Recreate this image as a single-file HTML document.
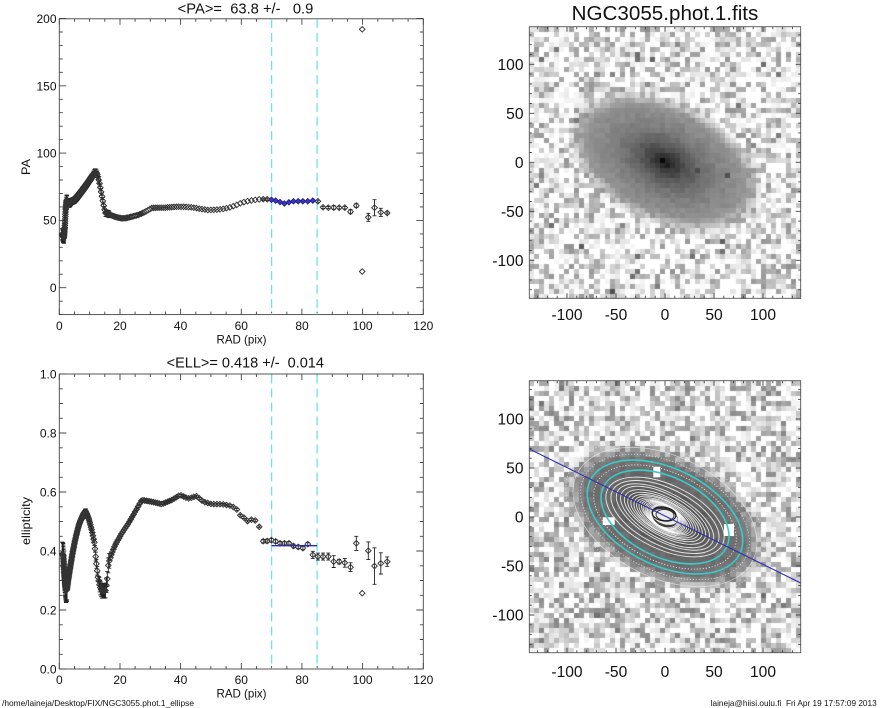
<!DOCTYPE html>
<html><head><meta charset="utf-8"><title>NGC3055 ellipse fit</title>
<style>
html,body{margin:0;padding:0;background:#fff}
body{width:885px;height:708px;overflow:hidden;position:relative}
canvas{position:absolute}
#ov{position:absolute;left:0;top:0}
text{font-family:"Liberation Sans",Arial,Helvetica,sans-serif;fill:#111}
</style></head><body>
<canvas id="c1" width="272" height="272" style="left:529px;top:27px;background:radial-gradient(100px 62px at 136px 135px,#222,#777 55%,#bbb 85%,#e4e4e4) #e4e4e4"></canvas>
<canvas id="c2" width="272" height="272" style="left:529px;top:381px;background:radial-gradient(100px 62px at 136px 136px,#ccc,#666 40%,#999 85%,#d8d8d8) #d8d8d8"></canvas>
<svg id="ov" width="885" height="708" viewBox="0 0 885 708">
<defs><clipPath id="cb"><rect x="529.3" y="380.7" width="271.4" height="272"/></clipPath></defs>
<g id="masks" fill="#fff">
<rect x="653.3" y="466.7" width="7" height="10.6"/>
<rect x="602.7" y="517.3" width="12" height="7.7"/>
<rect x="724" y="524" width="10" height="12"/>
</g>
<g id="cont" clip-path="url(#cb)"></g>
<line x1="529.3" y1="449" x2="800.7" y2="583" stroke="#3030b0" stroke-width="1.1"/>
<g id="ticks" stroke="#444" stroke-width="0.9" fill="none"></g>
<rect x="59.3" y="18.8" width="364" height="295.8" fill="none" stroke="#444" stroke-width="0.9"/>
<rect x="59.3" y="374" width="364" height="295" fill="none" stroke="#444" stroke-width="0.9"/>
<rect x="529.3" y="26.7" width="271.4" height="271.6" fill="none" stroke="#555" stroke-width="0.9"/>
<rect x="529.3" y="380.7" width="271.4" height="272" fill="none" stroke="#555" stroke-width="0.9"/>
<g stroke="#6fe3ec" stroke-width="1.3" stroke-dasharray="9,5">
<line x1="271.6" y1="19" x2="271.6" y2="314.5"/><line x1="317.1" y1="19" x2="317.1" y2="314.5"/>
<line x1="271.6" y1="374.5" x2="271.6" y2="669"/><line x1="317.1" y1="374.5" x2="317.1" y2="669"/>
</g>
<g id="pts"></g>
<line x1="271.6" y1="545.7" x2="317.1" y2="545.7" stroke="#2a2ab0" stroke-width="1.4"/>

<text x="245.5" y="13.5" font-size="14.5" text-anchor="middle" style="white-space:pre" textLength="135.6" lengthAdjust="spacingAndGlyphs">&lt;PA&gt;=  63.8 +/-   0.9</text>
<text x="245.3" y="367.5" font-size="14.5" text-anchor="middle" style="white-space:pre" textLength="157.3" lengthAdjust="spacingAndGlyphs">&lt;ELL&gt;= 0.418 +/-  0.014</text>
<text x="665" y="19.8" font-size="20.5" text-anchor="middle" textLength="186.7" lengthAdjust="spacingAndGlyphs">NGC3055.phot.1.fits</text>

<g font-size="12" text-anchor="end">
<text x="56.5" y="292">0</text><text x="56.5" y="224.6">50</text><text x="56.5" y="157.6">100</text><text x="56.5" y="90.3">150</text><text x="56.5" y="23">200</text>
<text x="56.5" y="673.3">0.0</text><text x="56.5" y="614.3">0.2</text><text x="56.5" y="555.3">0.4</text><text x="56.5" y="496.3">0.6</text><text x="56.5" y="437.3">0.8</text><text x="56.5" y="378.3">1.0</text>
</g>
<g font-size="12" text-anchor="middle">
<text x="59.3" y="330">0</text><text x="120" y="330">20</text><text x="180.6" y="330">40</text><text x="241.3" y="330">60</text><text x="302" y="330">80</text><text x="362.6" y="330">100</text><text x="423.3" y="330">120</text>
<text x="59.3" y="684">0</text><text x="120" y="684">20</text><text x="180.6" y="684">40</text><text x="241.3" y="684">60</text><text x="302" y="684">80</text><text x="362.6" y="684">100</text><text x="423.3" y="684">120</text>
<text x="241.5" y="343.5" textLength="50" lengthAdjust="spacingAndGlyphs">RAD (pix)</text>
<text x="241.5" y="697.5" textLength="50" lengthAdjust="spacingAndGlyphs">RAD (pix)</text>
</g>
<text font-size="12" text-anchor="middle" transform="translate(30 167) rotate(-90)" textLength="16" lengthAdjust="spacingAndGlyphs">PA</text>
<text font-size="12" text-anchor="middle" transform="translate(30 521) rotate(-90)" textLength="48" lengthAdjust="spacingAndGlyphs">ellipticity</text>

<g font-size="15.6" text-anchor="end">
<text x="523.5" y="69.9">100</text><text x="523.5" y="118.9">50</text><text x="523.5" y="167.9">0</text><text x="523.5" y="216.9">-50</text><text x="523.5" y="265.9">-100</text>
<text x="523.5" y="424.6">100</text><text x="523.5" y="473.6">50</text><text x="523.5" y="522.6">0</text><text x="523.5" y="571.6">-50</text><text x="523.5" y="620.6">-100</text>
</g>
<g font-size="15.6" text-anchor="middle">
<text x="567" y="320">-100</text><text x="616" y="320">-50</text><text x="665" y="320">0</text><text x="714" y="320">50</text><text x="763" y="320">100</text>
<text x="567" y="677">-100</text><text x="616" y="677">-50</text><text x="665" y="677">0</text><text x="714" y="677">50</text><text x="763" y="677">100</text>
</g>
<text x="2" y="706" font-size="8.5" textLength="192" lengthAdjust="spacingAndGlyphs">/home/laineja/Desktop/FIX/NGC3055.phot.1_ellipse</text>
<text x="876.7" y="706" font-size="8.5" text-anchor="end" style="white-space:pre" textLength="166" lengthAdjust="spacingAndGlyphs">laineja@hiisi.oulu.fi  Fri Apr 19 17:57:09 2013</text>
</svg>
<script>
(function(){
var NS='http://www.w3.org/2000/svg';
function E(tag,at,par){var e=document.createElementNS(NS,tag);for(var k in at)e.setAttribute(k,at[k]);par.appendChild(e);return e;}
function interp(K,r){if(r<=K[0][0])return K[0][1];for(var i=1;i<K.length;i++){if(r<=K[i][0]){var a=K[i-1],b=K[i];return a[1]+(b[1]-a[1])*(r-a[0])/(b[0]-a[0]);}}return K[K.length-1][1];}
var PAK=[[0.99,40],[1.2,38],[1.5,37],[1.8,45],[2.1,58],[2.4,65],[2.8,63],[3.3,62],[4,64],[5,65],[6,67.5],[7,70.5],[8,73.5],[9,76.5],[10,80],[11,83],[11.7,86],[12.3,85.5],[12.8,82],[13.3,77],[13.8,71],[14.3,65],[14.8,59],[15.2,55.5],[16,55],[17,54],[18,53],[19,52.3],[20.6,51.5],[22,51.8],[24,52.8],[26,54],[28,56],[30.5,59.2],[32,59.4],[34,59.4],[36,59.7],[39,60.2],[42,60],[44,59.6],[46,58.8],[49,57.7],[52,58],[54,58.5],[56,59.5],[58,61],[60,63],[62,64.3],[64.5,65.2],[66,65.6],[68,65.8],[69.3,65.5],[70.7,65.2],[72,64.2],[73,63.5],[74.3,62.5],[75.8,63.5],[77,64.2],[78.7,64.2],[80.3,64.2],[82,64.2],[83.6,64.7],[85.3,64.2]];
var ELK=[[0.99,0.39],[1.3,0.386],[1.6,0.33],[1.9,0.29],[2.2,0.265],[2.5,0.27],[2.9,0.30],[3.5,0.34],[4.5,0.40],[5.5,0.45],[6.5,0.49],[7.5,0.515],[8.7,0.533],[9.7,0.51],[10.7,0.471],[11.6,0.426],[12.1,0.37],[12.7,0.313],[13.4,0.279],[14,0.265],[15.2,0.265],[15.8,0.3],[16.2,0.358],[17.3,0.392],[18.4,0.42],[20.6,0.46],[22.8,0.494],[25,0.533],[27.2,0.573],[30.5,0.567],[33.8,0.559],[37.1,0.573],[39.8,0.59],[42.5,0.578],[45.3,0.586],[47.5,0.567],[50.2,0.559],[53.5,0.559],[56.8,0.553],[58.5,0.541],[59.6,0.522],[61.2,0.511],[62.3,0.499],[63.4,0.507],[64.5,0.505],[65.9,0.482],[67.3,0.43],[68.6,0.434],[70,0.437],[71.5,0.432],[72.8,0.426],[74.2,0.426],[75.9,0.426],[77.2,0.417],[78.5,0.415],[80,0.407],[81.9,0.424],[83.6,0.387]];
function XR(r){return 59.3+3.033*r;}
function YP(p){return 287.7-1.346*p;}
function YE(e){return 669-295*e;}
var paOut={226:[59.7,.8],227:[59.5,.8],228:[59.5,1.5],229:[59.5,1],230:[59.5,1],231:[56.5,1.5],232:[61,1.5],233:[192,0],234:[52.3,3],235:[59.4,6],236:[56,3],237:[55.5,.8]};
var elOut={224:[.387,.012],225:[.381,.012],226:[.381,.012],227:[.381,.012],228:[.364,.02],229:[.364,.008],230:[.36,.015],231:[.345,.015],232:[.426,.024],233:[.257,0],234:[.401,.03],235:[.349,.062],236:[.358,.036],237:[.364,.016]};
function paErr(r){return r<2.6?4:r<11.8?2.4:r<16.5?2.5:r<66?0.5:0.8;}
function elErr(r){return r<2.6?0.04:r<11.8?0.011:r<13?0.015:r<16.5?0.025:r<19?0.008:r<66?0.003:0.006;}
var s=2.8;
function f(v){return v.toFixed(1);}
function dia(x,y){return 'M'+f(x)+' '+f(y-s)+'l'+s+' '+s+'l'+(-s)+' '+s+'l'+(-s)+' '+(-s)+'z';}
function ebar(x,y1,y2){if(Math.abs(y2-y1)<1.6)return '';return 'M'+f(x)+' '+f(y1)+'V'+f(y2)+'M'+f(x-2)+' '+f(y1)+'h4M'+f(x-2)+' '+f(y2)+'h4';}
var pm='',pe='',pb='',em='',ee='';
for(var n=0;n<=237;n++){
 var r=0.99*Math.pow(1.02,n),x=XR(r),p,pr;
 if(paOut[n]){p=paOut[n][0];pr=paOut[n][1];}else{p=interp(PAK,r);pr=paErr(r);}
 var y=YP(p);
 if(r>=69.8&&r<=84.6)pb+=dia(x,y);else pm+=dia(x,y);
 if(pr>0)pe+=ebar(x,YP(p+pr),YP(p-pr));
 if(n==233)pm+=dia(x,YP(12));
 var e,er;
 if(elOut[n]){e=elOut[n][0];er=elOut[n][1];}else{e=interp(ELK,r);er=elErr(r);}
 em+=dia(x,YE(e));
 if(er>0)ee+=ebar(x,YE(e+er),YE(e-er));
}
var g=document.getElementById('pts');
E('path',{d:pe+ee,fill:'none',stroke:'#222','stroke-width':0.9},g);
E('path',{d:pm+em,fill:'none',stroke:'#333','stroke-width':0.95},g);
E('path',{d:pb,fill:'#3838b8',stroke:'#1e1e8c','stroke-width':0.8},g);

/* ticks */
var t='',tg=document.getElementById('ticks');
for(var v=0;v<=120;v+=5){var xx=XR(v),L=(v%20==0)?6:3;
 t+='M'+f(xx)+' 314.6v'+(-L)+'M'+f(xx)+' 18.8v'+L+'M'+f(xx)+' 669v'+(-L)+'M'+f(xx)+' 374v'+L;}
for(var v=-20;v<=200;v+=10){var yy=YP(v),L=(v%50==0)?7:3.5;t+='M59.3 '+f(yy)+'h'+L+'M423.3 '+f(yy)+'h'+(-L);}
for(var k=0;k<=20;k++){var yy=YE(k*0.05),L=(k%4==0)?7:3.5;t+='M59.3 '+f(yy)+'h'+L+'M423.3 '+f(yy)+'h'+(-L);}
for(var v=-130;v<=130;v+=10){var L=(v%50==0)?5:2.5,xx=665+0.98*v;
 t+='M'+f(xx)+' 298.3v'+(-L)+'M'+f(xx)+' 26.7v'+L+'M'+f(xx)+' 652.7v'+(-L)+'M'+f(xx)+' 380.7v'+L;
 var y1=162.3-0.98*v,y2=517-0.98*v;
 t+='M529.3 '+f(y1)+'h'+L+'M800.7 '+f(y1)+'h'+(-L)+'M529.3 '+f(y2)+'h'+L+'M800.7 '+f(y2)+'h'+(-L);}
E('path',{d:t},tg);

/* contours */
var cg=document.getElementById('cont');
function el(a,e,tl,st,w,da,op,fill){var rx=a*0.98;E('ellipse',{cx:665,cy:517,rx:f(rx),ry:f(rx*(1-e)),transform:'rotate('+f(tl)+' 665 517)',fill:fill||'none',stroke:st,'stroke-width':w,'stroke-dasharray':da||'none',opacity:op||1},cg);}
el(108,0.38,26.2,'#f4f4f4',0.8,'1.2 2',0.7);
el(100,0.38,26.2,'#eeeeee',0.8,null,0.65);
el(92,0.40,26.2,'#f4f4f4',0.8,'1.2 1.8',0.75);
el(78,0.42,26.2,'#ffffff',0.8,'1.2 1.8',0.85);
var AL=[14,15,16,17,18.5,20,21.5,23,25,27,29.5,32,35,38.5,42,46,50.5,55,60,65];
for(var i=0;i<AL.length;i++){var a=AL[i],e=Math.min(0.58,interp(ELK,a)),tl=26.2+0.5*((90-interp(PAK,a))-26.2);el(a,e,tl,'#ffffff',0.95,null,0.82);}
el(12.5,0.45,18,'#ffffff',1,null,0.9,'#ffffff');
E('ellipse',{cx:664,cy:514,rx:12,ry:7,transform:'rotate(10 664 514)',fill:'none',stroke:'#151515','stroke-width':1.1},cg);
E('ellipse',{cx:665,cy:515,rx:9,ry:5.5,transform:'rotate(6 665 515)',fill:'none',stroke:'#2a2a2a','stroke-width':0.9},cg);
el(70,0.418,26.2,'#3cc9c9',1.6);
el(85,0.418,26.2,'#3cc9c9',1.6);

/* images */
function rng(a){return function(){a|=0;a=a+0x6D2B79F5|0;var t=Math.imul(a^a>>>15,1|a);t=t+Math.imul(t^t>>>7,61|t)^t;return((t^t>>>14)>>>0)/4294967296;};}
function img(id,seed,cy,bot,stars){
 var cv=document.getElementById(id);if(!cv||!cv.getContext)return;var ctx=cv.getContext('2d');
 var R=rng(seed),N=54,cw=272/N,th=26.2*Math.PI/180,c=Math.cos(th),sn=Math.sin(th),q=0.6;
 var dark={};
 if(stars)for(var m=0;m<stars.length;m++){dark[Math.floor(stars[m][0]/cw)+','+Math.floor(stars[m][1]/cw)]=stars[m][2];}
 for(var j=0;j<N;j++)for(var i=0;i<N;i++){
  var sx=(i+0.5)*cw-136,sy=(j+0.5)*cw-cy;
  var u=(sx*c+sy*sn)/0.98,v=(-sx*sn+sy*c)/0.98,r=Math.sqrt(u*u+v*v/(q*q));
  var bg;
  if(bot){ if(R()<0.28)bg=255;else bg=246-112*Math.pow(R(),1.35); }
  else { if(R()<0.35)bg=255;else bg=248-100*Math.pow(R(),1.45); }
  if(R()<0.015)bg=110+50*R();
  var G;
  if(bot)G=35+100*(1-Math.exp(-r/50))+(R()-0.5)*16;
  else G=20+145*(1-Math.exp(-r/42))+(R()-0.5)*14;
  if(!bot&&r<4)G=8;
  var w=Math.min(1,Math.max(0,(r-(bot?88:85))/22));
  var val=G*(1-w)+bg*w;
  var key=i+','+j;if(dark[key]!==undefined)val=Math.min(val,dark[key]);
  val=Math.max(0,Math.min(255,Math.round(val)));
  ctx.fillStyle='rgb('+val+','+val+','+val+')';
  var x0=Math.round(i*cw),x1=Math.round((i+1)*cw),y0=Math.round(j*cw),y1=Math.round((j+1)*cw);
  ctx.fillRect(x0,y0,x1-x0,y1-y0);
 }
}
var st=[[652.7,61,100],[636.7,53.3,110],[613.3,291,80],[584,246.7,90],[721.7,239.3,95],[730,176,80],[698,171.7,75],[550,226.7,110],[763,63,110],[780,75,120],[576.7,120,120]];
for(var i=0;i<st.length;i++){st[i][0]-=529;st[i][1]-=27;}
img('c1',12345,135.3,false,st);
img('c2',67890,136,true,null);
})();
</script>
</body></html>
